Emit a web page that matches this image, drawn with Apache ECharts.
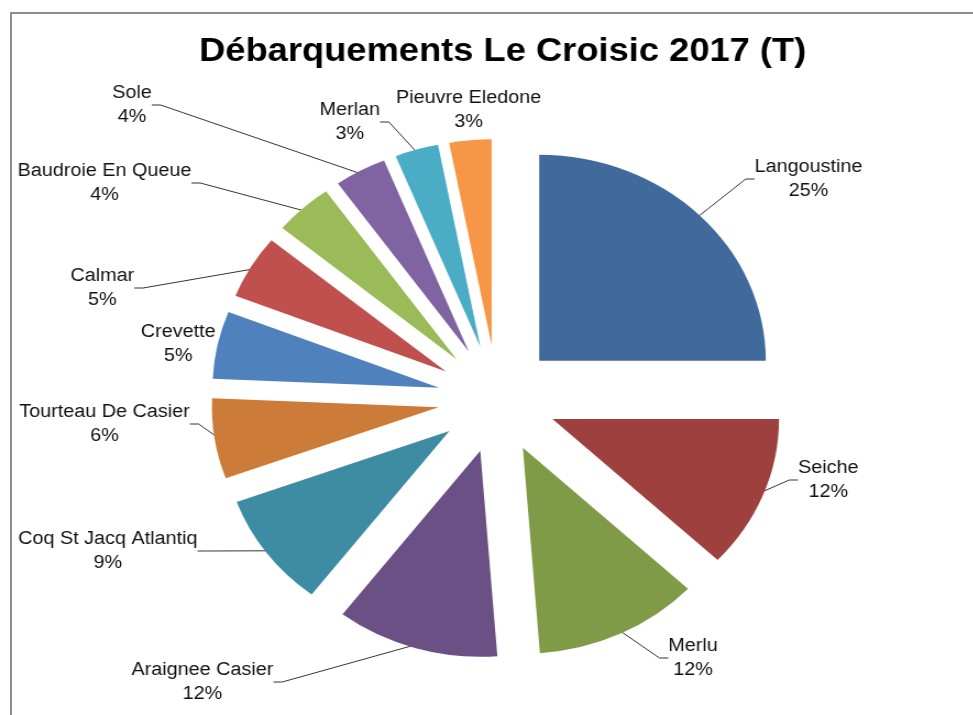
<!DOCTYPE html>
<html>
<head>
<meta charset="utf-8">
<script src="https://cdn.jsdelivr.net/npm/echarts@6/dist/echarts.min.js"></script>
<style>
  html, body { margin: 0; padding: 0; background: #fff; }
  #frame {
    position: absolute; left: 10px; top: 12px; width: 970px; height: 710px;
    border-top: 2px solid #8e8e8e; border-left: 2px solid #8e8e8e;
  }
  /* the original picture is stretched horizontally, so the chart is too */
  #chartBox {
    position: absolute; left: 0; top: 0;
    width: 885px; height: 715px;
    transform: scaleX(1.1); transform-origin: 0 0;
  }
</style>
</head>
<body>
<div id="frame"></div>
<div id="chartBox"></div>
<script>
// espèces, dans l'ordre horaire depuis midi
const species = ['Langoustine', 'Seiche', 'Merlu', 'Araignee Casier', 'Coq St Jacq Atlantiq',
  'Tourteau De Casier', 'Crevette', 'Calmar', 'Baudroie En Queue', 'Sole', 'Merlan', 'Pieuvre Eledone'];
// parts (%)
const shares = [25.0, 12.0, 11.8, 11.6, 9.0, 6.3, 5.3, 5.0, 4.2, 3.7, 3.1, 3.0];
const colors = ['#416A9C', '#9E413E', '#7F9B48', '#6A5085', '#3D8CA3', '#CC7B38',
  '#4F81BD', '#C0504D', '#9BBB59', '#8064A2', '#4BACC6', '#F79646'];
// emplacement des étiquettes (centre du bloc de texte, repère du graphique)
const labelPos = [[735, 179], [753, 480], [630, 658], [184, 682], [98, 551], [95, 424],
  [162, 344], [93, 288], [95, 183], [120, 105], [318, 122], [426, 110]];
const noLine = ['Crevette', 'Pieuvre Eledone'];

const R = 206, OFFSET = 54, CENTER = [452, 399];

let myChart = echarts.init(document.getElementById('chartBox'));
myChart.setOption({
  animation: false,
  title: {
    text: 'Débarquements Le Croisic 2017 (T)',
    left: 452,
    top: 30,
    textAlign: 'center',
    textStyle: { fontFamily: 'Liberation Sans', fontSize: 33, fontWeight: 'bold', color: '#000' }
  },
  series: [{
    // parts éclatées
    type: 'pie',
    center: CENTER,
    radius: [0, R],
    startAngle: 90,
    selectedMode: 'multiple',
    selectedOffset: OFFSET,
    label: { show: false },
    labelLine: { show: false },
    emphasis: { disabled: true },
    data: species.map(function (name, i) {
      return { name: name, value: shares[i], selected: true, itemStyle: { color: colors[i] } };
    })
  }, {
    // même camembert, invisible, qui porte les étiquettes
    type: 'pie',
    center: CENTER,
    radius: [0, R + OFFSET - 4],
    startAngle: 90,
    silent: true,
    percentPrecision: 0,
    itemStyle: { color: 'rgba(0,0,0,0)' },
    label: {
      formatter: '{n|{b}}\n{n|{d}%}',
      color: '#111',
      fontFamily: 'Liberation Sans',
      fontSize: 18,
      lineHeight: 24,
      rich: { n: { align: 'center', fontSize: 18, lineHeight: 24, color: '#111' } }
    },
    labelLine: { length: 10, length2: 8, lineStyle: { color: '#333', width: 1 } },
    labelLayout: function (params) {
      let p = labelPos[params.dataIndex];
      return { x: p[0], y: p[1], align: 'center', verticalAlign: 'middle' };
    },
    emphasis: { disabled: true },
    data: species.map(function (name, i) {
      return { name: name, value: shares[i], labelLine: { show: noLine.indexOf(name) < 0 } };
    })
  }]
});
</script>
</body>
</html>
